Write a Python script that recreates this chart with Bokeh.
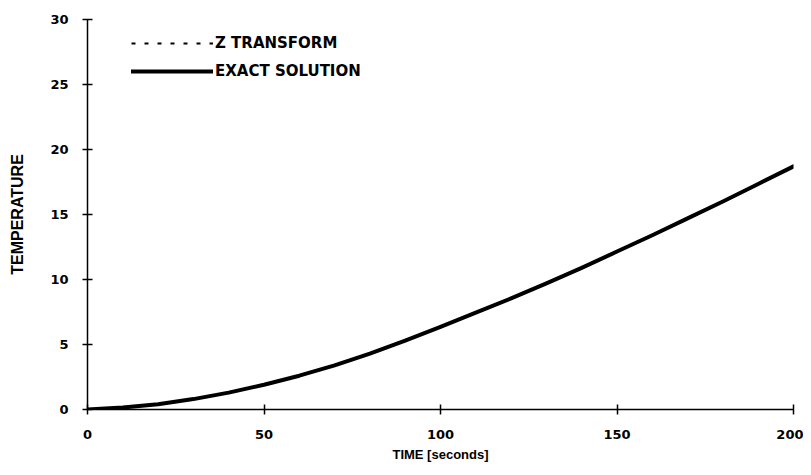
from bokeh.plotting import figure
from bokeh.models import FixedTicker, Legend, LegendItem, Range1d
from bokeh.embed import file_html
from bokeh.resources import INLINE

# ---- data ----
time_s = [0, 10, 20, 30, 40, 50, 60, 70, 80, 90, 100,
          110, 120, 130, 140, 150, 160, 170, 180, 190, 200]
z_transform = [0, 0.15, 0.4, 0.8, 1.3, 1.9, 2.6, 3.4, 4.3, 5.3, 6.35,
               7.45, 8.55, 9.7, 10.9, 12.15, 13.4, 14.7, 16.0, 17.35, 18.7]
exact_solution = [0, 0.15, 0.4, 0.8, 1.3, 1.9, 2.6, 3.4, 4.3, 5.3, 6.35,
                  7.45, 8.55, 9.7, 10.9, 12.15, 13.4, 14.7, 16.0, 17.35, 18.7]
x_ticks = [0, 50, 100, 150, 200]
y_ticks = [0, 5, 10, 15, 20, 25, 30]
series_names = ["Z TRANSFORM", "EXACT SOLUTION"]
x_title = "TIME [seconds]"
y_title = "TEMPERATURE"

p = figure(width=803, height=467, output_backend="svg", toolbar_location=None,
           x_range=Range1d(0, 200), y_range=Range1d(0, 30),
           min_border_left=87, min_border_right=10,
           min_border_top=19, min_border_bottom=58)

p.outline_line_color = None
p.xgrid.visible = False
p.ygrid.visible = False
p.background_fill_color = "white"
p.border_fill_color = "white"

r_z = p.line(time_s, z_transform, line_color="black", line_width=2,
             line_dash="4 9")
r_e = p.line(time_s, exact_solution, line_color="black", line_width=4,
             line_join="round", line_cap="round")

p.xaxis.ticker = FixedTicker(ticks=x_ticks)
p.yaxis.ticker = FixedTicker(ticks=y_ticks)
p.axis.minor_tick_line_color = None
p.axis.major_tick_in = 5
p.axis.major_tick_out = 5
p.axis.axis_line_width = 1.5
p.axis.major_tick_line_width = 1.5
p.axis.axis_line_color = "black"
p.axis.major_tick_line_color = "black"
p.axis.major_label_text_font = "DejaVu Sans"
p.axis.major_label_text_font_style = "bold"
p.axis.major_label_text_font_size = "13px"
p.axis.major_label_text_color = "black"
p.axis.axis_label_text_font = "Liberation Sans"
p.axis.axis_label_text_font_style = "bold"
p.axis.axis_label_text_color = "black"

p.xaxis.axis_label = x_title
p.yaxis.axis_label = y_title
p.xaxis.major_label_standoff = 15
p.yaxis.major_label_standoff = 14
p.xaxis.axis_label_text_font_size = "13px"
p.yaxis.axis_label_text_font_size = "16px"
p.xaxis.axis_label_standoff = 5
p.yaxis.axis_label_standoff = 21

legend = Legend(items=[LegendItem(label=series_names[0], renderers=[r_z]),
                       LegendItem(label=series_names[1], renderers=[r_e])],
                location=(44, 328))
legend.border_line_color = None
legend.background_fill_alpha = 0
legend.padding = 0
legend.margin = 0
legend.spacing = 8
legend.glyph_width = 82
legend.glyph_height = 20
legend.label_standoff = 2
legend.label_text_font = "DejaVu Sans"
legend.label_text_font_style = "bold"
legend.label_text_font_size = "15px"
legend.label_text_color = "black"
p.add_layout(legend, "center")

open("out.html", "w").write(file_html(p, INLINE))
